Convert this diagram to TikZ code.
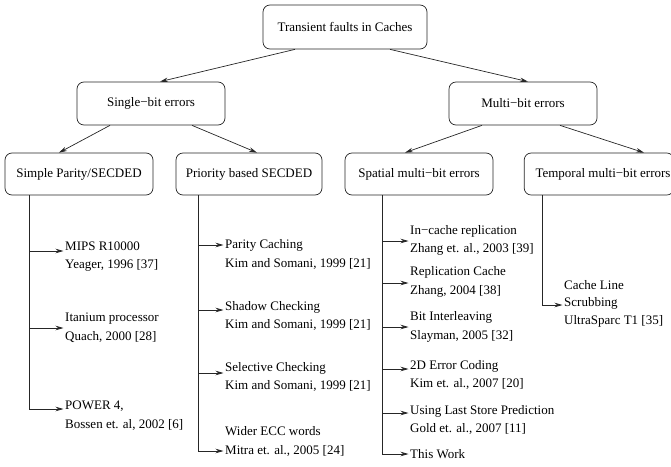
\documentclass[tikz,border=0pt]{standalone}
\usepackage{fontspec}
\setmainfont{Liberation Serif}
\usetikzlibrary{arrows.meta}
\begin{document}
\begin{tikzpicture}[x=1pt,y=-1pt,
  box/.style={draw=black!85, line width=0.7pt, rounded corners=7pt, minimum width=148pt, minimum height=43pt, font=\fontsize{13}{18.5}\selectfont},
  leaf/.style={anchor=west, align=left, inner sep=1.5pt, font=\fontsize{13}{18.5}\selectfont},
  edge/.style={draw=black!85, line width=0.7pt},
  arr/.style={edge, -{Stealth[length=8pt,width=4.5pt]}}]
  \useasboundingbox (0,0) rectangle (671,466);
  % boxes
  \node[box, minimum width=164pt, minimum height=44pt] (top) at (345,27) {Transient faults in Caches};
  \node[box] (single) at (151,103.5) {Single−bit errors};
  \node[box] (multi) at (523,103.5) {Multi−bit errors};
  \node[box, minimum height=42pt] (simple) at (79,174) {Simple Parity/SECDED};
  \node[box, minimum width=146pt, minimum height=42pt] (priority) at (249,174) {Priority based SECDED};
  \node[box, minimum height=42pt] (spatial) at (419,174) {Spatial multi−bit errors};
  \node[box, minimum height=42pt] (temporal) at (599,174) {\hspace*{8pt}Temporal multi−bit errors};
  \draw[arr] ([xshift=-50pt]top.south) -- ([xshift=9pt]single.north);
  \draw[arr] ([xshift=45pt]top.south) -- ([xshift=5pt]multi.north);
  \draw[arr] ([xshift=-41pt]single.south) -- ([xshift=-20pt]simple.north);
  \draw[arr] ([xshift=41pt]single.south) -- ([xshift=8pt]priority.north);
  \draw[arr] ([xshift=-41pt]multi.south) -- ([xshift=-14pt]spatial.north);
  \draw[arr] ([xshift=37pt]multi.south) -- ([xshift=45pt]temporal.north);
  % simple parity
  \node[leaf] (mips) at (63.5,256.5) {MIPS R10000\\Yeager, 1996 [37]};
  \node[leaf] (itanium) at (63.5,327.5) {Itanium processor\\Quach, 2000 [28]};
  \node[leaf] (power) at (63.5,415.5) {POWER 4,\\Bossen et. al, 2002 [6]};
  \coordinate (a1) at (29,251);
  \coordinate (a2) at (29,328);
  \coordinate (a3) at (29,409);
  \draw[arr] (a1) -- (a1 -| mips.west);
  \draw[arr] (a2) -- (a2 -| itanium.west);
  \draw[arr] (simple.south -| a3) -- (a3) -- (a3 -| power.west);
  % priority based
  \node[leaf] (parity) at (223.5,254.5) {Parity Caching\\Kim and Somani, 1999 [21]};
  \node[leaf] (shadow) at (223.5,316) {Shadow Checking\\Kim and Somani, 1999 [21]};
  \node[leaf] (selective) at (223.5,377) {Selective Checking\\Kim and Somani, 1999 [21]};
  \node[leaf] (wider) at (223.5,441.5) {Wider ECC words\\Mitra et. al., 2005 [24]};
  \coordinate (b1) at (198,245);
  \coordinate (b2) at (198,310);
  \coordinate (b3) at (198,373);
  \coordinate (b4) at (198,451);
  \draw[arr] (b1) -- (b1 -| parity.west);
  \draw[arr] (b2) -- (b2 -| shadow.west);
  \draw[arr] (b3) -- (b3 -| selective.west);
  \draw[arr] (priority.south -| b4) -- (b4) -- (b4 -| wider.west);
  % spatial
  \node[leaf] (incache) at (408.5,240.5) {In−cache replication\\Zhang et. al., 2003 [39]};
  \node[leaf] (replcache) at (408.5,282) {Replication Cache\\Zhang, 2004 [38]};
  \node[leaf] (interleave) at (408.5,327) {Bit Interleaving\\Slayman, 2005 [32]};
  \node[leaf] (coding) at (408.5,375) {2D Error Coding\\Kim et. al., 2007 [20]};
  \node[leaf] (laststore) at (408.5,420) {Using Last Store Prediction\\Gold et. al., 2007 [11]};
  \node[leaf] (thiswork) at (408.5,454) {This Work};
  \coordinate (c1) at (382,241);
  \coordinate (c2) at (382,283);
  \coordinate (c3) at (382,327);
  \coordinate (c4) at (382,369);
  \coordinate (c5) at (382,413);
  \coordinate (c6) at (382,454);
  \draw[arr] (c1) -- (c1 -| incache.west);
  \draw[arr] (c2) -- (c2 -| replcache.west);
  \draw[arr] (c3) -- (c3 -| interleave.west);
  \draw[arr] (c4) -- (c4 -| coding.west);
  \draw[arr] (c5) -- (c5 -| laststore.west);
  \draw[arr] (spatial.south -| c6) -- (c6) -- (c6 -| thiswork.west);
  % temporal
  \node[leaf, font=\fontsize{13}{17.5}\selectfont] (scrub) at (562.5,303.5) {Cache Line\\Scrubbing\\UltraSparc T1 [35]};
  \coordinate (d1) at (542,305);
  \draw[arr] (temporal.south -| d1) -- (d1) -- (d1 -| scrub.west);
\end{tikzpicture}
\end{document}
